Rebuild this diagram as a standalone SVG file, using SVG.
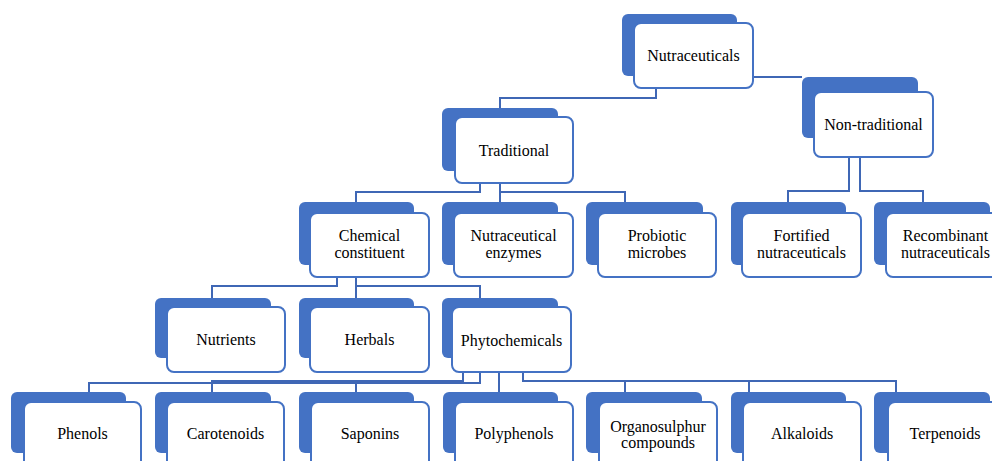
<svg xmlns="http://www.w3.org/2000/svg" width="992" height="461" viewBox="0 0 992 461">
<style>
.bk{fill:#4472C4;}
.fr{fill:#FFFFFF;stroke:#4472C4;stroke-width:2;}
.t{font-family:'Liberation Serif','Times New Roman','DejaVu Serif',serif;font-size:16px;fill:#000;text-anchor:middle;}
.c{fill:none;stroke:#3F67B5;stroke-width:2;}
</style>
<rect width="992" height="461" fill="#FFFFFF"/>
<g id="connectors">
<polyline class="c" points="656,88 656,98 500,98 500,108"/>
<polyline class="c" points="753,77 802,77"/>
<polyline class="c" points="480,183 480,192 356,192 356,202"/>
<polyline class="c" points="500,183 500,202"/>
<polyline class="c" points="500,192 625,192 625,203"/>
<polyline class="c" points="849,157 849,191 788,191 788,202"/>
<polyline class="c" points="860,157 860,191 923,191 923,202"/>
<polyline class="c" points="337,277 337,286 212,286 212,298"/>
<polyline class="c" points="356,277 356,298"/>
<polyline class="c" points="356,286 480,286 480,298"/>
<polyline class="c" points="480,372 480,383 89,383 89,392"/>
<polyline class="c" points="463,372 463,381 212,381 212,392"/>
<polyline class="c" points="356,381 356,392"/>
<polyline class="c" points="499,372 499,392"/>
<polyline class="c" points="523,372 523,381 896,381 896,392"/>
<polyline class="c" points="625,381 625,392"/>
<polyline class="c" points="749,381 749,392"/>
</g>
<g id="nutraceuticals">
<rect class="bk" x="622" y="14" width="115" height="62" rx="6"/>
<rect class="fr" x="634" y="23" width="119" height="65" rx="7"/>
<text class="t" x="693.5" y="61" font-family="Liberation Serif, serif">Nutraceuticals</text>
</g>
<g id="traditional">
<rect class="bk" x="442" y="108" width="116" height="63" rx="6"/>
<rect class="fr" x="455" y="117" width="118" height="66" rx="7"/>
<text class="t" x="514" y="156">Traditional</text>
</g>
<g id="non-traditional">
<rect class="bk" x="802" y="77" width="116" height="61" rx="6"/>
<rect class="fr" x="814" y="92" width="119" height="65" rx="7"/>
<text class="t" x="873.5" y="130">Non-traditional</text>
</g>
<g id="chemical-constituent">
<rect class="bk" x="299" y="202" width="115" height="63" rx="6"/>
<rect class="fr" x="310" y="213" width="119" height="64" rx="7"/>
<text class="t" x="369.5" y="241">Chemical</text>
<text class="t" x="369.5" y="258">constituent</text>
</g>
<g id="nutraceutical-enzymes">
<rect class="bk" x="442" y="202" width="116" height="63" rx="6"/>
<rect class="fr" x="454" y="213" width="119" height="64" rx="7"/>
<text class="t" x="513.5" y="241">Nutraceutical</text>
<text class="t" x="513.5" y="258">enzymes</text>
</g>
<g id="probiotic-microbes">
<rect class="bk" x="586" y="202" width="117" height="63" rx="6"/>
<rect class="fr" x="598" y="213" width="118" height="64" rx="7"/>
<text class="t" x="657" y="241">Probiotic</text>
<text class="t" x="657" y="258">microbes</text>
</g>
<g id="fortified-nutraceuticals">
<rect class="bk" x="731" y="202" width="115" height="63" rx="6"/>
<rect class="fr" x="742" y="213" width="119" height="64" rx="7"/>
<text class="t" x="801.5" y="241">Fortified</text>
<text class="t" x="801.5" y="258">nutraceuticals</text>
</g>
<g id="recombinant-nutraceuticals">
<rect class="bk" x="874" y="202" width="116" height="63" rx="6"/>
<rect class="fr" x="886" y="213" width="119" height="64" rx="7"/>
<text class="t" x="945.5" y="241">Recombinant</text>
<text class="t" x="945.5" y="258">nutraceuticals</text>
</g>
<g id="nutrients">
<rect class="bk" x="155" y="298" width="116" height="60" rx="6"/>
<rect class="fr" x="167" y="307" width="118" height="65" rx="7"/>
<text class="t" x="226" y="345">Nutrients</text>
</g>
<g id="herbals">
<rect class="bk" x="299" y="298" width="115" height="60" rx="6"/>
<rect class="fr" x="310" y="307" width="119" height="65" rx="7"/>
<text class="t" x="369.5" y="345">Herbals</text>
</g>
<g id="phytochemicals">
<rect class="bk" x="442" y="298" width="116" height="60" rx="6"/>
<rect class="fr" x="452" y="307" width="119" height="65" rx="7"/>
<text class="t" x="511.5" y="346">Phytochemicals</text>
</g>
<g id="phenols">
<rect class="bk" x="11" y="392" width="115" height="61" rx="6"/>
<rect class="fr" x="24" y="402" width="117" height="70" rx="7"/>
<text class="t" x="82.5" y="439">Phenols</text>
</g>
<g id="carotenoids">
<rect class="bk" x="155" y="392" width="116" height="61" rx="6"/>
<rect class="fr" x="167" y="402" width="117" height="70" rx="7"/>
<text class="t" x="225.5" y="439">Carotenoids</text>
</g>
<g id="saponins">
<rect class="bk" x="299" y="392" width="115" height="61" rx="6"/>
<rect class="fr" x="311" y="402" width="118" height="70" rx="7"/>
<text class="t" x="370" y="439">Saponins</text>
</g>
<g id="polyphenols">
<rect class="bk" x="443" y="392" width="115" height="61" rx="6"/>
<rect class="fr" x="455" y="402" width="118" height="70" rx="7"/>
<text class="t" x="514" y="439">Polyphenols</text>
</g>
<g id="organosulphur-compounds">
<rect class="bk" x="586" y="392" width="116" height="61" rx="6"/>
<rect class="fr" x="599" y="402" width="118" height="70" rx="7"/>
<text class="t" x="658" y="432">Organosulphur</text>
<text class="t" x="658" y="448">compounds</text>
</g>
<g id="alkaloids">
<rect class="bk" x="731" y="392" width="115" height="61" rx="6"/>
<rect class="fr" x="743" y="402" width="118" height="70" rx="7"/>
<text class="t" x="802" y="439">Alkaloids</text>
</g>
<g id="terpenoids">
<rect class="bk" x="874" y="392" width="116" height="61" rx="6"/>
<rect class="fr" x="888" y="402" width="118" height="70" rx="7"/>
<text class="t" x="945" y="439">Terpenoids</text>
</g>
</svg>
